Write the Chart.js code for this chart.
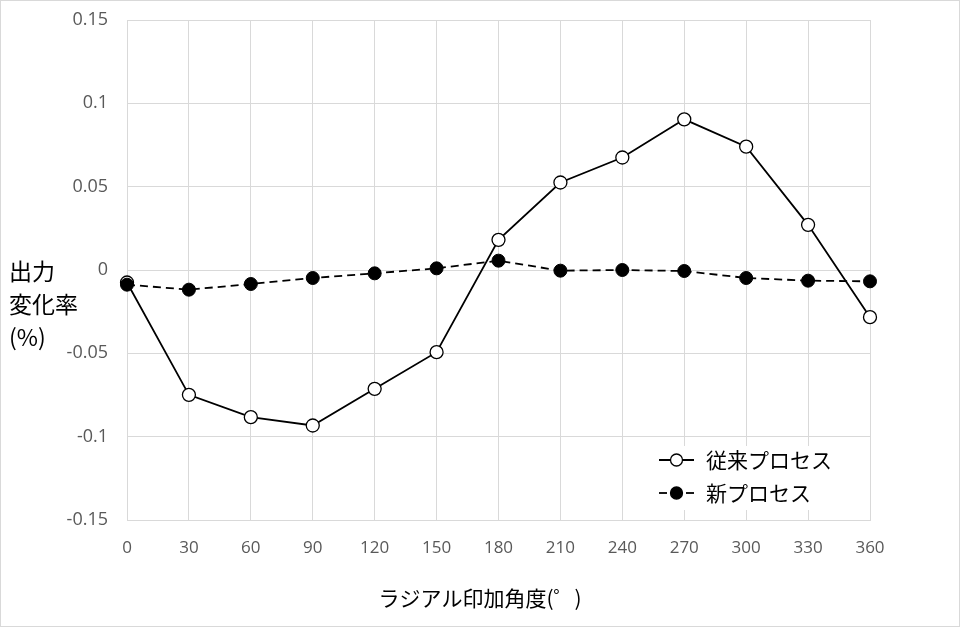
<!DOCTYPE html>
<html lang="ja">
<head>
  <meta charset="UTF-8">
  <title>出力変化率</title>
  <script src="https://cdn.jsdelivr.net/npm/chart.js"></script>
  <style>
    body { margin: 0; background: #fff; }
    canvas { display: block; }
  </style>
</head>
<body>
  <canvas id="chart" width="960" height="627"></canvas>
<script>
    // angles (deg) and output change rate (%)
    const angles = [0, 30, 60, 90, 120, 150, 180, 210, 240, 270, 300, 330, 360];
    const oldProcess = [-0.0075, -0.0749, -0.0883, -0.0933, -0.0713, -0.0493, 0.0181, 0.0525, 0.0675, 0.0904, 0.074, 0.0271, -0.0283];
    const newProcess = [-0.0088, -0.0118, -0.0084, -0.0048, -0.002, 0.001, 0.0056, -0.0004, 0.0, -0.0006, -0.0048, -0.0064, -0.0068];
    const yTicks = [-0.15, -0.1, -0.05, 0, 0.05, 0.1, 0.15];
    const yTitle = ['出力', '変化率', '(%)'];
    const xTitle = 'ラジアル印加角度(゜)';
    const legendNames = ['従来プロセス', '新プロセス'];

    const jp = '"Noto Sans CJK JP", sans-serif';

    const extras = {
      id: 'extras',
      afterDatasetsDraw(chart) {
        const ctx = chart.ctx;
        ctx.save();
        // legend box
        ctx.fillStyle = '#fff';
        ctx.fillRect(648, 446, 200, 64);
        const rows = [
          { y: 460, fill: '#fff', segs: [[659, 694]], label: legendNames[0] },
          { y: 493, fill: '#000', segs: [[659, 667], [686, 694]], label: legendNames[1] }
        ];
        rows.forEach(r => {
          ctx.strokeStyle = '#000';
          ctx.lineWidth = 1.8;
          r.segs.forEach(([a, b]) => {
            ctx.beginPath();
            ctx.moveTo(a, r.y);
            ctx.lineTo(b, r.y);
            ctx.stroke();
          });
          ctx.beginPath();
          ctx.arc(676.5, r.y, 6, 0, Math.PI * 2);
          ctx.fillStyle = r.fill;
          ctx.fill();
          ctx.lineWidth = 1.3;
          ctx.stroke();
          ctx.fillStyle = '#000';
          ctx.font = '21px ' + jp;
          ctx.textBaseline = 'middle';
          ctx.textAlign = 'left';
          ctx.fillText(r.label, 706, r.y);
        });
        // y title
        ctx.font = '23px ' + jp;
        ctx.fillStyle = '#000';
        ctx.textAlign = 'left';
        ctx.textBaseline = 'middle';
        yTitle.forEach((t, i) => ctx.fillText(t, 9, 271 + i * 33));
        // x title
        ctx.textAlign = 'center';
        ctx.font = '21px ' + jp;
        ctx.fillText(xTitle, 480, 598);
        // outer border
        ctx.strokeStyle = '#d9d9d9';
        ctx.lineWidth = 1;
        ctx.strokeRect(0.5, 0.5, 959, 626);
        ctx.restore();
      }
    };

    new Chart(document.getElementById('chart'), {
      type: 'line',
      data: {
        labels: angles,
        datasets: [
          {
            label: legendNames[0],
            data: oldProcess,
            borderColor: '#000',
            borderWidth: 1.8,
            pointBackgroundColor: '#fff',
            pointBorderColor: '#000',
            pointBorderWidth: 1.3,
            pointRadius: 6.5,
            tension: 0,
            order: 1
          },
          {
            label: legendNames[1],
            data: newProcess,
            borderColor: '#000',
            borderWidth: 1.8,
            borderDash: [8, 5],
            pointBackgroundColor: '#000',
            pointBorderColor: '#000',
            pointBorderWidth: 1,
            pointRadius: 6.5,
            tension: 0,
            order: 0
          }
        ]
      },
      options: {
        responsive: false,
        animation: false,
        devicePixelRatio: 1,
        layout: { autoPadding: false, padding: { left: 0, top: 20, right: 90, bottom: 0 } },
        plugins: { legend: { display: false }, tooltip: { enabled: false } },
        scales: {
          x: {
            type: 'category',
            offset: false,
            grid: { color: '#d9d9d9', drawTicks: false },
            border: { color: '#d9d9d9' },
            ticks: { color: '#595959', font: { size: 17, family: '"Open Sans", sans-serif' }, padding: 18, maxRotation: 0 },
            afterFit(s) { s.height = 107; }
          },
          y: {
            min: -0.15,
            max: 0.15,
            afterBuildTicks(s) { s.ticks = yTicks.map(v => ({ value: v })); },
            grid: { color: '#d9d9d9', drawTicks: true, tickLength: 19, tickColor: 'rgba(0,0,0,0)' },
            border: { display: false },
            ticks: {
              color: '#595959',
              font: { size: 18, family: '"Open Sans", sans-serif' },
              padding: 0,
              callback: v => String(Math.round(v * 100) / 100)
            },
            afterFit(s) { s.width = 127; }
          }
        }
      },
      plugins: [extras]
    });
</script>
</body>
</html>
